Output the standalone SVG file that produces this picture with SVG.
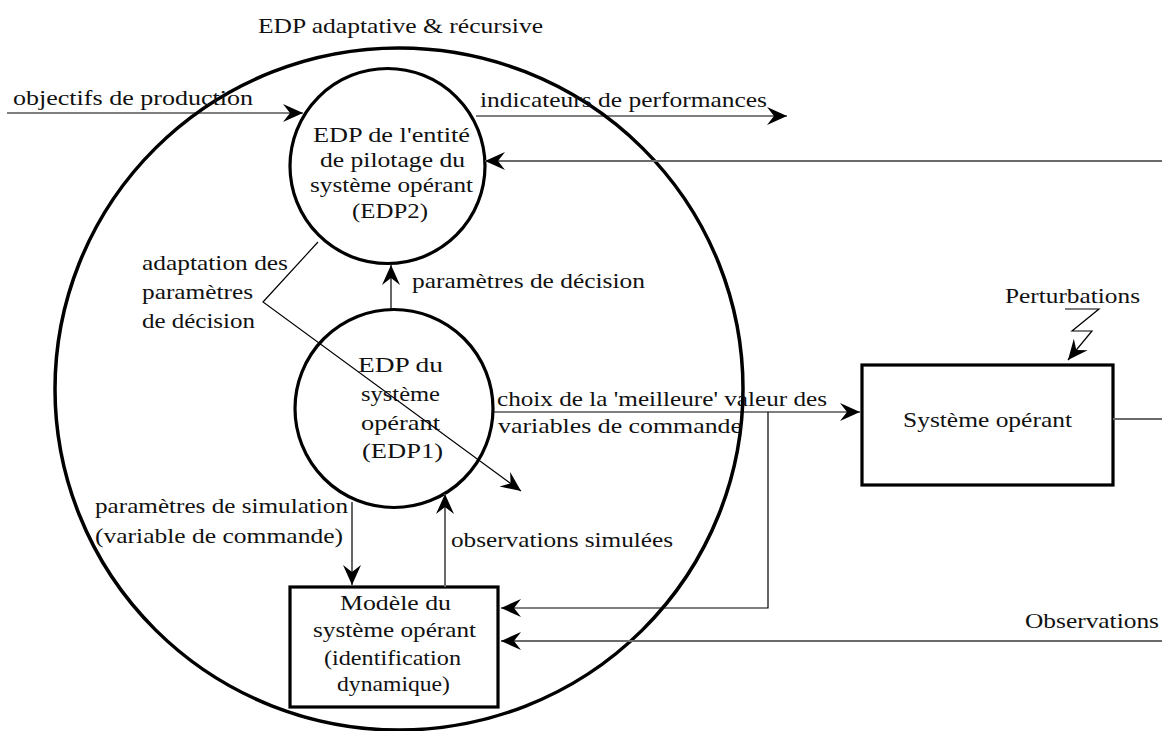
<svg xmlns="http://www.w3.org/2000/svg" width="1162" height="731" viewBox="0 0 1162 731">
<style>
.t{font-family:"Liberation Serif","Times New Roman",serif;font-size:22px;fill:#111}
.n{fill:none;stroke:#000;stroke-width:3.2}
.c{fill:none;stroke:#000;stroke-width:1.2}
.g{fill:none;stroke:#6a6a6a;stroke-width:2}
</style>
<defs>
<marker id="ah" markerUnits="userSpaceOnUse" markerWidth="26" markerHeight="22" viewBox="-22 -11 24 22" refX="0" refY="0" orient="auto">
<path d="M0,0 L-20,-9 L-13,0 L-20,9 Z" fill="#000"/>
</marker>
</defs>
<rect width="1162" height="731" fill="#fff"/>

<g id="edp-adaptative">
<ellipse cx="399" cy="389" rx="344" ry="341" fill="none" stroke="#000" stroke-width="3.5"/>
<text class="t" x="258" y="33" textLength="285" lengthAdjust="spacingAndGlyphs">EDP adaptative &amp; récursive</text>
</g>

<g id="edp2">
<circle class="n" cx="387.5" cy="166" r="97.5"/>
<text class="t" x="313" y="142" textLength="157" lengthAdjust="spacingAndGlyphs">EDP de l'entité</text>
<text class="t" x="320" y="167" textLength="145" lengthAdjust="spacingAndGlyphs">de pilotage du</text>
<text class="t" x="310" y="192" textLength="163" lengthAdjust="spacingAndGlyphs">système opérant</text>
<text class="t" x="352" y="218" textLength="76" lengthAdjust="spacingAndGlyphs">(EDP2)</text>
</g>

<g id="edp1">
<circle class="n" cx="394" cy="408.5" r="99"/>
<text class="t" x="358" y="372" textLength="85" lengthAdjust="spacingAndGlyphs">EDP du</text>
<text class="t" x="361" y="401" textLength="79" lengthAdjust="spacingAndGlyphs">système</text>
<text class="t" x="361" y="430" textLength="79" lengthAdjust="spacingAndGlyphs">opérant</text>
<text class="t" x="362" y="458" textLength="81" lengthAdjust="spacingAndGlyphs">(EDP1)</text>
</g>

<g id="modele">
<rect class="n" x="290" y="587" width="208" height="120" stroke-width="3.5"/>
<text class="t" x="340" y="610" textLength="111" lengthAdjust="spacingAndGlyphs">Modèle du</text>
<text class="t" x="313" y="637" textLength="163" lengthAdjust="spacingAndGlyphs">système opérant</text>
<text class="t" x="324" y="665" textLength="137" lengthAdjust="spacingAndGlyphs">(identification</text>
<text class="t" x="337" y="691" textLength="113" lengthAdjust="spacingAndGlyphs">dynamique)</text>
</g>

<g id="systeme">
<rect class="n" x="862" y="365" width="251" height="120" stroke-width="3.5"/>
<text class="t" x="903" y="427" textLength="169" lengthAdjust="spacingAndGlyphs">Système opérant</text>
</g>

<g id="connectors">
<path class="c" d="M7,113 H303" marker-end="url(#ah)"/>
<path class="c" d="M476,116 H787" marker-end="url(#ah)"/>
<path class="g" d="M1162,161 H485" marker-end="url(#ah)"/>
<path class="c" d="M391,310 V265" marker-end="url(#ah)"/>
<polyline class="c" points="318,242 263,302 521,491" marker-end="url(#ah)"/>
<path class="c" d="M493,412 H860" marker-end="url(#ah)"/>
<path class="c" d="M768,412 V608 H501" marker-end="url(#ah)"/>
<path class="g" d="M1113,419 H1162"/>
<path class="g" d="M1162,641 H501" marker-end="url(#ah)"/>
<path class="c" d="M352,502 V585" marker-end="url(#ah)"/>
<path class="g" d="M445,587 V494" marker-end="url(#ah)"/>
<polyline class="c" points="1065,309 1099,309 1072,331 1092,331 1068,360" marker-end="url(#ah)"/>
</g>

<g id="labels">
<text class="t" x="13" y="105" textLength="240" lengthAdjust="spacingAndGlyphs">objectifs de production</text>
<text class="t" x="480" y="107" textLength="287" lengthAdjust="spacingAndGlyphs">indicateurs de performances</text>
<text class="t" x="142" y="270" textLength="146" lengthAdjust="spacingAndGlyphs">adaptation des</text>
<text class="t" x="142" y="299" textLength="111" lengthAdjust="spacingAndGlyphs">paramètres</text>
<text class="t" x="142" y="328" textLength="113" lengthAdjust="spacingAndGlyphs">de décision</text>
<text class="t" x="412" y="288" textLength="233" lengthAdjust="spacingAndGlyphs">paramètres de décision</text>
<text class="t" x="1005" y="303" textLength="135" lengthAdjust="spacingAndGlyphs">Perturbations</text>
<text class="t" x="497" y="406" textLength="330" lengthAdjust="spacingAndGlyphs">choix de la 'meilleure' valeur des</text>
<text class="t" x="498" y="433" textLength="244" lengthAdjust="spacingAndGlyphs">variables de commande</text>
<text class="t" x="95" y="513" textLength="253" lengthAdjust="spacingAndGlyphs">paramètres de simulation</text>
<text class="t" x="95" y="543" textLength="248" lengthAdjust="spacingAndGlyphs">(variable de commande)</text>
<text class="t" x="451" y="547" textLength="222" lengthAdjust="spacingAndGlyphs">observations simulées</text>
<text class="t" x="1025" y="628" textLength="134" lengthAdjust="spacingAndGlyphs">Observations</text>
</g>
</svg>
